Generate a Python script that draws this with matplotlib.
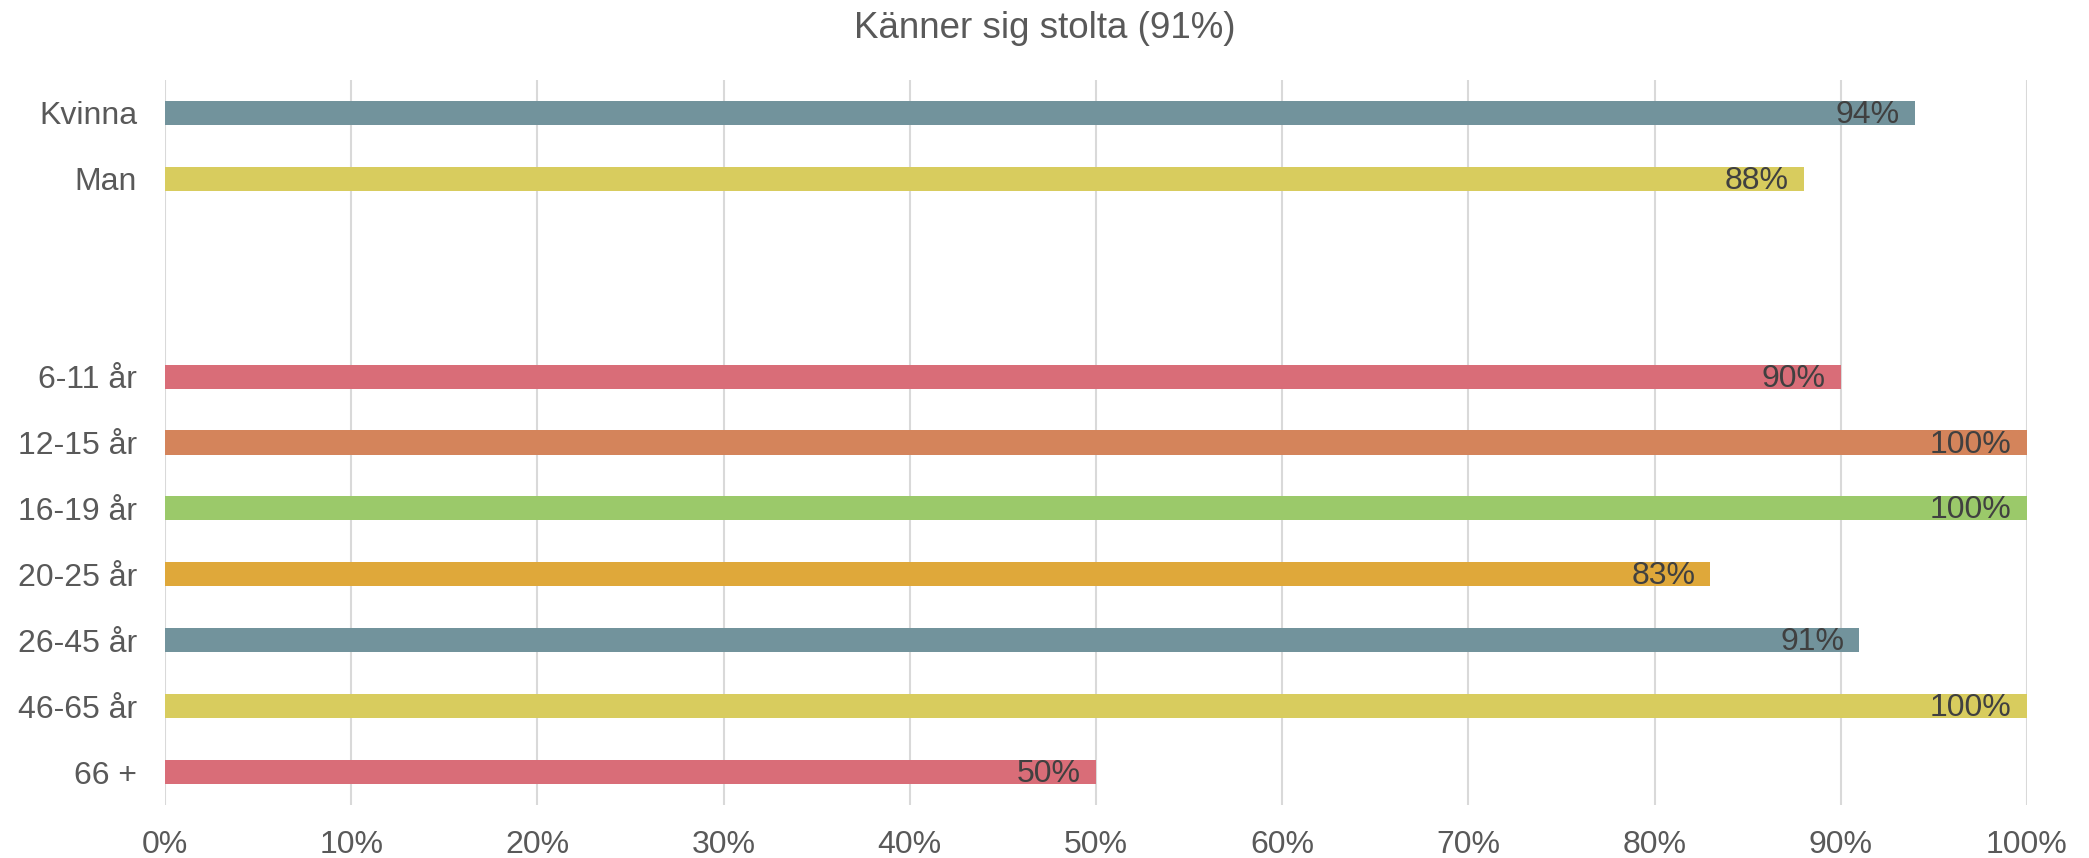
import matplotlib.pyplot as plt
import numpy as np

plt.rcParams['font.family'] = ['Liberation Sans', 'DejaVu Sans']

# data
title = "Känner sig stolta (91%)"
categories = ["Kvinna", "Man", "", "", "6-11 år", "12-15 år", "16-19 år",
              "20-25 år", "26-45 år", "46-65 år", "66 +"]
values = [94, 88, None, None, 90, 100, 100, 83, 91, 100, 50]
colors = ["#72939c", "#d8cc5e", None, None, "#d96d78", "#d4845b", "#9bc96a",
          "#dfa83a", "#72939c", "#d8cc5e", "#d96d78"]

fig = plt.figure(figsize=(20.89, 8.58), dpi=100)
ax = fig.add_axes([165 / 2089, 1 - 805 / 858, (2027 - 165) / 2089, (805 - 80) / 858])

pos = np.arange(len(categories))
for i, (v, c) in enumerate(zip(values, colors)):
    if v is None:
        continue
    ax.barh(pos[i], v, height=0.365, color=c, zorder=2)
    ax.annotate(f"{v}%", xy=(v, pos[i]), xytext=(-11, -1.5), textcoords="offset points",
                ha="right", va="center", fontsize=23, color="#404040", zorder=3)

ax.set_xlim(0, 100)
ax.set_ylim(len(categories) - 0.5, -0.5)
ax.set_yticks(pos)
ax.set_yticklabels(categories)
ax.set_xticks(np.arange(0, 101, 10))
ax.set_xticklabels([f"{t}%" for t in range(0, 101, 10)])
ax.tick_params(axis="both", length=0, labelsize=23, labelcolor="#595959")
ax.tick_params(axis="y", pad=20)
ax.tick_params(axis="x", pad=18)
ax.grid(axis="x", color="#d9d9d9", linewidth=1.5, zorder=0)
for s in ax.spines.values():
    s.set_visible(False)

fig.text(0.5, 1 - 28 / 858, title, ha="center", va="center", fontsize=26.5, color="#595959")

fig.savefig("out.png", dpi=100)
